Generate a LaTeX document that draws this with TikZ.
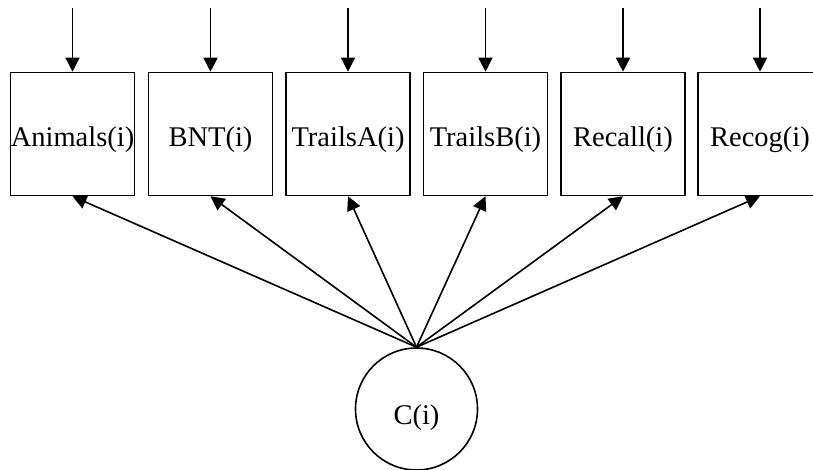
\documentclass[tikz,border=0pt]{standalone}
\usepackage{fontspec}
\setmainfont{Liberation Serif}
\usetikzlibrary{arrows.meta}
\newcommand{\lowtext}[2]{\raisebox{-#1}[0pt][0pt]{#2}}
\begin{document}
\begin{tikzpicture}[x=1pt,y=-1pt,
  obs/.style={draw,line width=1.6pt,minimum width=124pt,minimum height=123pt,inner sep=0pt,font=\fontsize{28.5}{31}\selectfont},
  lat/.style={draw,circle,line width=1.6pt,minimum size=122pt,inner sep=0pt,font=\fontsize{28.5}{31}\selectfont},
  arr/.style={line width=1.6pt,-{Triangle[length=14pt,width=14pt]}}]
\useasboundingbox (0,0) rectangle (813,470);
\clip (0,0) rectangle (813,470);
\node[obs] (a) at (72.5,134) {\lowtext{13pt}{Animals(i)}};
\node[obs] (b) at (210.5,134) {\lowtext{13pt}{BNT(i)}};
\node[obs] (c) at (348,134) {\lowtext{13pt}{TrailsA(i)}};
\node[obs] (d) at (485.5,134) {\lowtext{13pt}{TrailsB(i)}};
\node[obs] (e) at (623,134) {\lowtext{13pt}{Recall(i)}};
\node[obs] (f) at (760,134) {\lowtext{13pt}{Recog(i)}};
\node[lat] (C) at (416.5,409) {\lowtext{15pt}{C(i)}};
\foreach \n in {a,b,c,d,e,f}{
  \coordinate (t\n) at (\n.north |- 0,8);
  \draw[arr] (t\n) -- (\n.north);
  \draw[arr] (C.north) -- (\n.south);
}
\end{tikzpicture}
\end{document}
